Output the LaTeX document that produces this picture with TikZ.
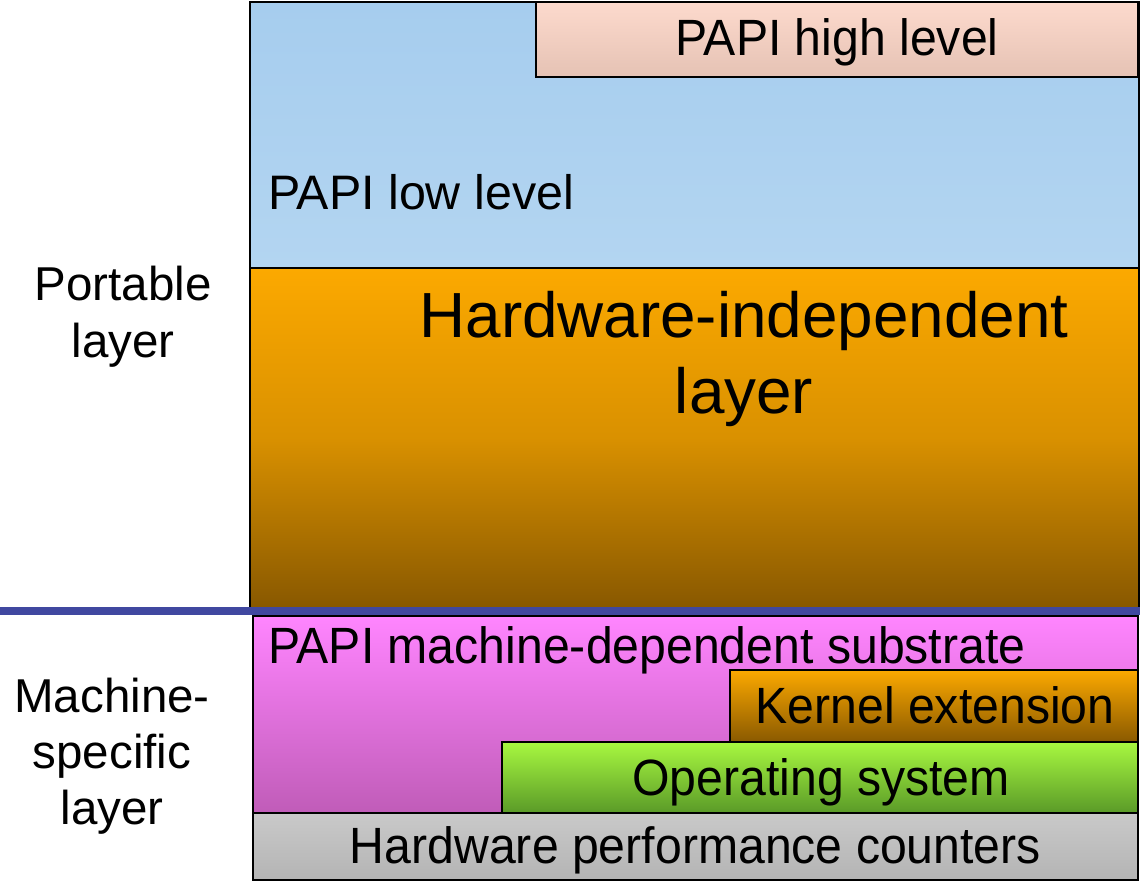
\documentclass[tikz,border=0pt]{standalone}
\usepackage{fontspec}
\setmainfont{Liberation Sans}
\newfontfamily\condfont[FakeStretch=0.945]{Liberation Sans}
\definecolor{bluetop}{HTML}{A6CDEE}
\definecolor{bluebot}{HTML}{B3D5F1}
\definecolor{hltop}{HTML}{FDDACD}
\definecolor{hlbot}{HTML}{E5C2B4}
\definecolor{ortop}{HTML}{FCA900}
\definecolor{orbot}{HTML}{885800}
\definecolor{pktop}{HTML}{FF85FF}
\definecolor{pkbot}{HTML}{C05CB8}
\definecolor{grtop}{HTML}{A8F840}
\definecolor{grbot}{HTML}{5A9A28}
\definecolor{gytop}{HTML}{C9C9C9}
\definecolor{gybot}{HTML}{B4B4B4}
\definecolor{divider}{HTML}{4048A0}
\tikzset{
  layerbox/.style={draw=black, line width=1.6pt, inner sep=0pt, outer sep=0pt, anchor=north west},
  boxtext/.style={inner sep=0pt, anchor=base, font=\condfont\fontsize{51}{57}\selectfont},
  sidetext/.style={inner sep=0pt, anchor=base, font=\fontsize{47.5}{57}\selectfont},
}
\begin{document}
\begin{tikzpicture}[x=1pt, y=-1pt]
\useasboundingbox (0,0) rectangle (1140,881);
\fill[white] (0,0) rectangle (1140,881);
% portable layer boxes
\node[layerbox, minimum width=889pt, minimum height=266pt, top color=bluetop, bottom color=bluebot] (lowlevel) at (250,2) {};
\node[layerbox, minimum width=602pt, minimum height=75pt, top color=hltop, bottom color=hlbot] (highlevel) at (536,2) {};
\node[layerbox, minimum width=889pt, minimum height=340pt, top color=ortop, bottom color=orbot, middle color=ortop!70!orbot] (hwind) at (250,268) {};
% machine specific boxes
\node[layerbox, minimum width=885pt, minimum height=197pt, top color=pktop, bottom color=pkbot] (substrate) at (253,616) {};
\node[layerbox, minimum width=408pt, minimum height=73pt, top color=ortop, bottom color=orbot] (kernel) at (730,670) {};
\node[layerbox, minimum width=636pt, minimum height=71pt, top color=grtop, bottom color=grbot] (os) at (502,742) {};
\node[layerbox, minimum width=885pt, minimum height=67pt, top color=gytop, bottom color=gybot] (hpc) at (253,813) {};
% divider
\coordinate (divL) at (0,611);
\coordinate (divR) at (1140,611);
\draw[divider, line width=8pt] (divL) -- (divR);
% texts
\node[boxtext] (thl) at (837,55) {PAPI high level};
\node[sidetext, anchor=base west, font=\fontsize{48.4}{57}\selectfont] (tll) at (268,209) {PAPI low level};
\node[sidetext, font=\fontsize{63.8}{70}\selectfont] (thi1) at (744,337) {Hardware-independent};
\node[sidetext, font=\fontsize{63.8}{70}\selectfont] (thi2) at (744,413) {layer};
\node[boxtext, anchor=base west] (tsub) at (268,663) {PAPI machine-dependent substrate};
\node[boxtext] (tker) at (935,723) {Kernel extension};
\node[boxtext] (tos) at (821,795) {Operating system};
\node[boxtext] (thpc) at (695.5,863) {Hardware performance counters};
\node[sidetext] (port1) at (123,300) {Portable};
\node[sidetext] (port2) at (123,357) {layer};
\node[sidetext] (mach1) at (112,712) {Machine-};
\node[sidetext] (mach2) at (112,768) {specific};
\node[sidetext] (mach3) at (112,824) {layer};
\end{tikzpicture}
\end{document}
